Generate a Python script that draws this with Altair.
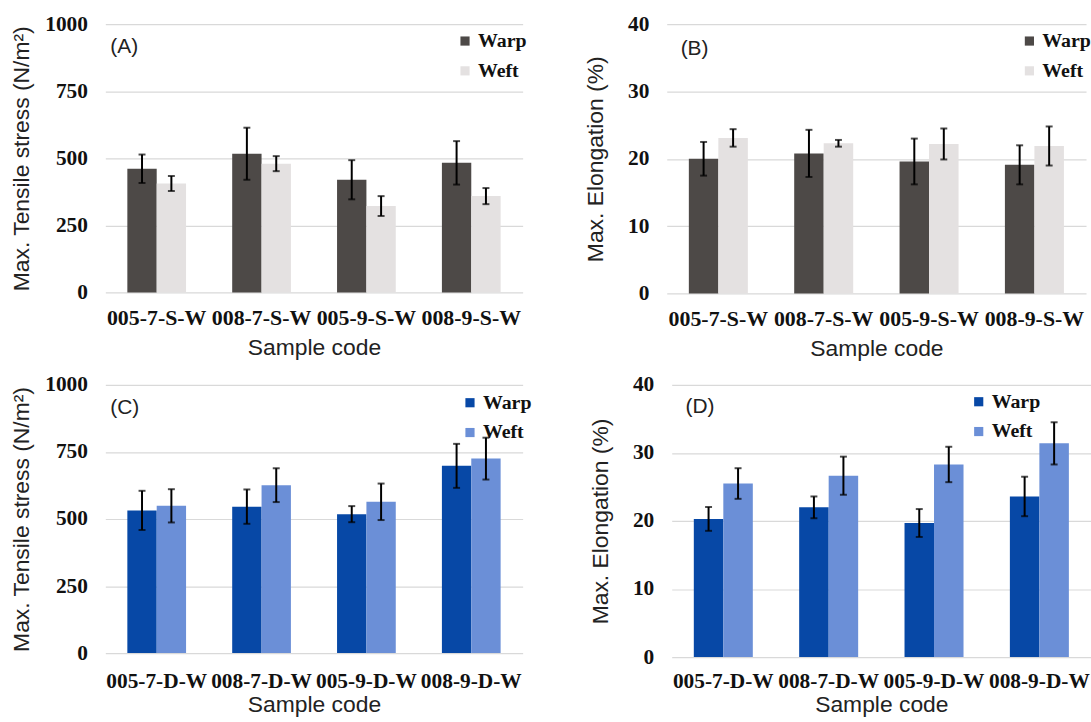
import altair as alt
import pandas as pd

# ---------------- data ----------------
samples_S = ["005-7-S-W", "008-7-S-W", "005-9-S-W", "008-9-S-W"]
samples_D = ["005-7-D-W", "008-7-D-W", "005-9-D-W", "008-9-D-W"]
directions = ["Warp", "Weft"]

A_warp = [461, 517, 420, 483]
A_warp_err = [53, 97, 73, 81]
A_weft = [406, 480, 322, 359]
A_weft_err = [28, 28, 37, 30]

B_warp = [20.0, 20.8, 19.6, 19.1]
B_warp_err = [2.5, 3.5, 3.4, 2.9]
B_weft = [23.1, 22.3, 22.2, 21.9]
B_weft_err = [1.3, 0.5, 2.3, 2.9]

C_warp = [532, 546, 518, 698]
C_warp_err = [73, 64, 30, 82]
C_weft = [549, 626, 564, 725]
C_weft_err = [62, 63, 68, 78]

D_warp = [20.3, 22.0, 19.7, 23.6]
D_warp_err = [1.75, 1.6, 2.05, 2.9]
D_weft = [25.5, 26.65, 28.3, 31.4]
D_weft_err = [2.25, 2.8, 2.6, 3.1]

stress_ticks = [0, 250, 500, 750, 1000]
elong_ticks = [0, 10, 20, 30, 40]
panel_labels = ["(A)", "(B)", "(C)", "(D)"]

gray_colors = ["#4d4947", "#e4e1e1"]
blue_colors = ["#0748a6", "#6b8fd7"]

STRESS_TITLE = "Max. Tensile stress (N/m²)"
ELONG_TITLE = "Max. Elongation (%)"

SERIF = "Liberation Serif"
SANS = "Liberation Sans"


def panel(samples, warp, warp_err, weft, weft_err, ticks, ytitle, colors,
          label, width, height, ytp, xlp, xtp, xfs, legx, legy, labx, laby):
    rows = []
    for s, v, e in zip(samples, warp, warp_err):
        rows.append({"sample": s, "dir": "Warp", "value": v, "lo": v - e, "hi": v + e})
    for s, v, e in zip(samples, weft, weft_err):
        rows.append({"sample": s, "dir": "Weft", "value": v, "lo": v - e, "hi": v + e})
    df = pd.DataFrame(rows)

    xenc = alt.X(
        "sample:N", sort=samples,
        scale=alt.Scale(paddingInner=0.44, paddingOuter=0.21),
        axis=alt.Axis(
            title="Sample code", labelAngle=0, labelOverlap=False, labelLimit=300,
            domain=False, ticks=False, grid=False,
            labelFont=SERIF, labelFontWeight="bold", labelFontSize=xfs,
            labelColor="#111111", labelPadding=xlp,
            titleFont=SANS, titleFontWeight="normal", titleFontSize=23,
            titleColor="#222222", titlePadding=xtp,
        ),
    )
    xoff = alt.XOffset("dir:N", sort=directions,
                       scale=alt.Scale(paddingInner=0, paddingOuter=0))
    yscale = alt.Scale(domain=[ticks[0], ticks[-1]], nice=False)
    yenc = alt.Y(
        "value:Q", scale=yscale,
        axis=alt.Axis(
            values=ticks, format="d", title=ytitle,
            domain=False, ticks=False, grid=True, gridColor="#d9d9d9", gridWidth=1.2,
            labelFont=SERIF, labelFontWeight="bold", labelFontSize=21.5,
            labelColor="#111111", labelPadding=18,
            titleFont=SANS, titleFontWeight="normal", titleFontSize=23,
            titleColor="#222222", titlePadding=ytp,
        ),
    )

    base = alt.Chart(df)
    bars = base.mark_bar().encode(
        x=xenc, xOffset=xoff, y=yenc,
        color=alt.Color(
            "dir:N", sort=directions,
            scale=alt.Scale(domain=directions, range=colors),
            legend=alt.Legend(
                title=None, orient="none", legendX=legx, legendY=legy,
                symbolType="square", symbolSize=85, symbolStrokeWidth=0,
                labelFont=SERIF, labelFontWeight="bold", labelFontSize=20,
                labelColor="#111111", labelOffset=3, rowPadding=10, padding=0,
            ),
        ),
    )
    err = base.mark_rule(color="black", strokeWidth=2).encode(
        x=alt.X("sample:N", sort=samples), xOffset=alt.XOffset("dir:N", sort=directions),
        y=alt.Y("lo:Q", scale=yscale), y2="hi:Q",
    )
    cap_lo = base.mark_tick(color="black", thickness=2, size=7).encode(
        x=alt.X("sample:N", sort=samples), xOffset=alt.XOffset("dir:N", sort=directions),
        y=alt.Y("lo:Q", scale=yscale),
    )
    cap_hi = base.mark_tick(color="black", thickness=2, size=7).encode(
        x=alt.X("sample:N", sort=samples), xOffset=alt.XOffset("dir:N", sort=directions),
        y=alt.Y("hi:Q", scale=yscale),
    )
    lab = alt.Chart(pd.DataFrame({"t": [label]})).mark_text(
        font=SANS, fontSize=21, align="left", baseline="middle", color="#222222"
    ).encode(x=alt.value(labx), y=alt.value(laby), text="t:N")

    return alt.layer(bars, err, cap_lo, cap_hi, lab).properties(width=width, height=height)


pA = panel(samples_S, A_warp, A_warp_err, A_weft, A_weft_err, stress_ticks, STRESS_TITLE,
           gray_colors, panel_labels[0], 420, 270, 11, 15, 8, 22, 352, 7, 5, 23)
pB = panel(samples_S, B_warp, B_warp_err, B_weft, B_weft_err, elong_ticks, ELONG_TITLE,
           gray_colors, panel_labels[1], 422, 271, 20, 15, 8, 22, 355, 7, 14, 25)
pC = panel(samples_D, C_warp, C_warp_err, C_weft, C_weft_err, stress_ticks, STRESS_TITLE,
           blue_colors, panel_labels[2], 420, 270, 11, 18, 1, 21.5, 357, 8, 5, 23)
pD = panel(samples_D, D_warp, D_warp_err, D_weft, D_weft_err, elong_ticks, ELONG_TITLE,
           blue_colors, panel_labels[3], 422, 274, 20, 14, 1, 21.5, 299, 7, 14, 22)

res = dict(color="independent", x="independent", y="independent", xOffset="independent")

top = alt.hconcat(pA, pB, spacing=58).resolve_scale(**res).resolve_legend(color="independent")
bottom = alt.hconcat(pC, pD, spacing=58).resolve_scale(**res).resolve_legend(color="independent")

chart = (
    alt.vconcat(top, bottom, spacing=14)
    .resolve_scale(**res)
    .resolve_legend(color="independent")
    .properties(padding={"left": 10, "top": 11, "right": 0, "bottom": 0}, background="white")
    .configure_view(stroke=None)
)

chart.save("out.html", embed_options={"renderer": "svg", "actions": False})
